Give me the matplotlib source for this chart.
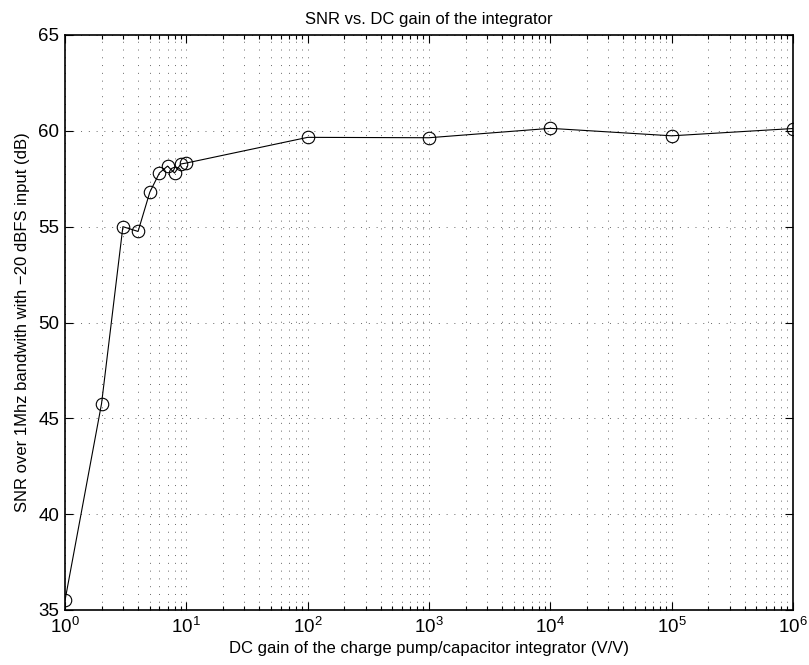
import matplotlib
matplotlib.use("Agg")
import matplotlib.pyplot as plt
from matplotlib.ticker import LogLocator, MultipleLocator, NullFormatter

plt.rcParams['font.family'] = ['Liberation Sans', 'DejaVu Sans']
plt.rcParams['mathtext.fontset'] = 'custom'
plt.rcParams['mathtext.rm'] = 'Liberation Sans'
plt.rcParams['mathtext.it'] = 'Liberation Sans'

gain = [1, 2, 3, 4, 5, 6, 7, 8, 9, 10, 100, 1e3, 1e4, 1e5, 1e6]
snr = [35.5, 45.76, 55.0, 54.75, 56.8, 57.8, 58.16, 57.8, 58.27, 58.32,
       59.66, 59.64, 60.13, 59.74, 60.12]

title = "SNR vs. DC gain of the integrator"
xlabel = "DC gain of the charge pump/capacitor integrator (V/V)"
ylabel = "SNR over 1Mhz bandwith with \u221220 dBFS input (dB)"

fig = plt.figure(figsize=(8.09, 6.65), dpi=100)
ax = fig.add_axes([65/809, 1-610/665, (793-65)/809, (610-35)/665])

ax.plot(gain, snr, color='black', linewidth=0.8, marker='o', markersize=9,
        markerfacecolor='none', markeredgecolor='black', markeredgewidth=0.8)

ax.set_xscale('log')
ax.set_xlim(1, 1e6)
ax.set_ylim(35, 65)
ax.yaxis.set_major_locator(MultipleLocator(5))
ax.xaxis.set_major_locator(LogLocator(base=10, numticks=10))
ax.xaxis.set_minor_locator(LogLocator(base=10, subs=range(2, 10), numticks=20))
ax.xaxis.set_minor_formatter(NullFormatter())

grid_style = dict(color='black', linestyle=(0, (1, 7)), linewidth=0.7, alpha=0.6)
ax.grid(True, which='major', axis='both', **grid_style)
ax.grid(True, which='minor', axis='x', **grid_style)

ax.tick_params(which='both', direction='in', top=True, right=True,
               labelsize=13.5, width=0.8)
ax.tick_params(which='major', length=6, pad=5)
ax.tick_params(which='minor', length=3)
ax.tick_params(axis='y', pad=4)
for s in ax.spines.values():
    s.set_linewidth(1.2)

ax.set_title(title, fontsize=12, pad=8)
ax.set_xlabel(xlabel, fontsize=12, labelpad=3)
ax.set_ylabel(ylabel, fontsize=12, labelpad=6)

fig.savefig("out.png", dpi=100)
